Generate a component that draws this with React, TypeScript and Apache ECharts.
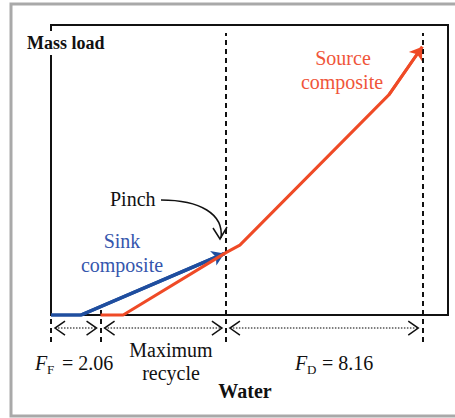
import React, { useEffect, useRef } from "react";
import * as echarts from "echarts";

// ---- data (water flow on x, mass load on y) ----
const sinkWater = [0, 1.25, 7.2];
const sinkLoad = [0, 0, 2.12];
const sourceWater = [2.06, 3.0, 7.27, 7.85, 14.05, 15.43];
const sourceLoad = [0, 0, 2.15, 2.41, 7.6, 9.25];
const freshWater = 2.06; // F_F
const pinchWater = 7.27;
const wasteWater = 8.16; // F_D
const xRange = [0, 16.5];
const yRange = [0, 10];
const dimensionLevel = -0.45;
const guideBottom = -0.93;
const guideTop = 9.72;

const RED = "#ef4a26";
const BLUE = "#1f4e9f";
const SERIF = "'Liberation Serif', 'Times New Roman', serif";

export default function App() {
  const ref = useRef<HTMLDivElement>(null);
  useEffect(() => {
    if (!ref.current) return;
    const chart = echarts.init(ref.current, null, { renderer: "svg" });
    const sink = sinkWater.map((x, i) => [x, sinkLoad[i]]);
    const source = sourceWater.map((x, i) => [x, sourceLoad[i]]);
    const dims = [
      [0, freshWater, dimensionLevel],
      [freshWater, pinchWater, dimensionLevel],
      [pinchWater, pinchWater + wasteWater, dimensionLevel],
    ];
    const guides = [
      { coords: [[pinchWater, guideBottom], [pinchWater, guideTop]] },
      { coords: [[pinchWater + wasteWater, guideBottom], [pinchWater + wasteWater, guideTop]] },
      { coords: [[0, guideBottom], [0, 0]] },
      { coords: [[freshWater, guideBottom], [freshWater, 0.25]] },
    ];
    const txt = (x: number, y: number, text: string, o: any = {}) => ({
      type: "text",
      x,
      y,
      z: 100,
      style: {
        text,
        fontFamily: SERIF,
        fontSize: 20,
        fill: "#111",
        textAlign: "left",
        textVerticalAlign: "middle",
        ...o,
      },
    });
    chart.setOption({
      animation: false,
      grid: {
        left: 51,
        top: 25,
        right: 7,
        bottom: 103,
        show: true,
        borderColor: "#111",
        borderWidth: 2,
        backgroundColor: "transparent",
      },
      xAxis: { type: "value", min: xRange[0], max: xRange[1], show: false },
      yAxis: { type: "value", min: yRange[0], max: yRange[1], show: false },
      series: [
        {
          type: "lines",
          coordinateSystem: "cartesian2d",
          clip: false,
          silent: true,
          symbol: "none",
          lineStyle: { color: "#111", width: 2, type: [5, 4], opacity: 1 },
          data: guides,
          z: 1,
        },
        {
          type: "custom",
          coordinateSystem: "cartesian2d",
          clip: false,
          silent: true,
          data: dims,
          encode: { x: [0, 1], y: 2 },
          renderItem: (params: any, api: any) => {
            const a = api.coord([api.value(0), api.value(2)]);
            const b = api.coord([api.value(1), api.value(2)]);
            const y = a[1];
            const s = { stroke: "#111", lineWidth: 1.5, fill: "none" };
            return {
              type: "group",
              children: [
                {
                  type: "line",
                  shape: { x1: a[0] + 4, y1: y, x2: b[0] - 4, y2: y },
                  style: { stroke: "#555", lineWidth: 1.5, lineDash: [1.5, 1.5] },
                },
                {
                  type: "polyline",
                  shape: { points: [[a[0] + 14, y - 7], [a[0] + 4, y], [a[0] + 14, y + 7]] },
                  style: s,
                },
                {
                  type: "polyline",
                  shape: { points: [[b[0] - 14, y - 7], [b[0] - 4, y], [b[0] - 14, y + 7]] },
                  style: s,
                },
              ],
            };
          },
          z: 2,
        },
        {
          type: "line",
          data: sink,
          showSymbol: false,
          clip: false,
          lineStyle: { color: BLUE, width: 3.5 },
          z: 3,
        },
        {
          type: "lines",
          coordinateSystem: "cartesian2d",
          clip: false,
          symbol: ["none", "arrow"],
          symbolSize: 12,
          lineStyle: { color: BLUE, width: 3.5, opacity: 1 },
          data: [{ coords: sink.slice(-2) }],
          z: 3,
        },
        {
          type: "line",
          data: source,
          showSymbol: false,
          clip: false,
          lineStyle: { color: RED, width: 3 },
          z: 4,
        },
        {
          type: "lines",
          coordinateSystem: "cartesian2d",
          clip: false,
          symbol: ["none", "arrow"],
          symbolSize: 12,
          lineStyle: { color: RED, width: 3, opacity: 1 },
          data: [{ coords: source.slice(-2) }],
          z: 4,
        },
      ],
      graphic: [
        {
          type: "rect",
          shape: { x: 11, y: 4, width: 460, height: 412 },
          style: { fill: "none", stroke: "#a9a9a9", lineWidth: 3 },
          z: 100,
        },
        txt(27, 43, "Mass load", {
          fontWeight: "bold",
          fontSize: 18,
          backgroundColor: "#fff",
          padding: [3, 1, 3, 0],
        }),
        txt(110, 199, "Pinch"),
        {
          type: "bezierCurve",
          z: 100,
          shape: { x1: 161, y1: 200, cpx1: 200, cpy1: 200, cpx2: 224, cpy2: 214, x2: 221, y2: 238 },
          style: { stroke: "#111", lineWidth: 1.5, fill: "none" },
        },
        {
          type: "polyline",
          z: 100,
          shape: { points: [[213, 228], [220, 239], [227, 227]] },
          style: { stroke: "#111", lineWidth: 1.5, fill: "none" },
        },
        txt(122, 241, "Sink", { textAlign: "center", fill: "#3556ad" }),
        txt(122, 265, "composite", { textAlign: "center", fill: "#3556ad" }),
        txt(343, 58, "Source", { textAlign: "center", fill: "#f0553a" }),
        txt(342, 82, "composite", { textAlign: "center", fill: "#f0553a" }),
        txt(35, 363, "F", { fontStyle: "italic" }),
        txt(47, 369, "F", { fontSize: 13 }),
        txt(62, 363, "= 2.06"),
        txt(295, 363, "F", { fontStyle: "italic" }),
        txt(307, 369, "D", { fontSize: 13 }),
        txt(322, 363, "= 8.16"),
        txt(171, 350, "Maximum", { textAlign: "center" }),
        txt(171, 373, "recycle", { textAlign: "center" }),
        txt(245, 391, "Water", { textAlign: "center", fontWeight: "bold" }),
      ],
    });
    return () => chart.dispose();
  }, []);
  return (
    <div
      ref={ref}
      style={{ position: "fixed", left: 0, top: 0, width: 455, height: 418, background: "#fff" }}
    />
  );
}
